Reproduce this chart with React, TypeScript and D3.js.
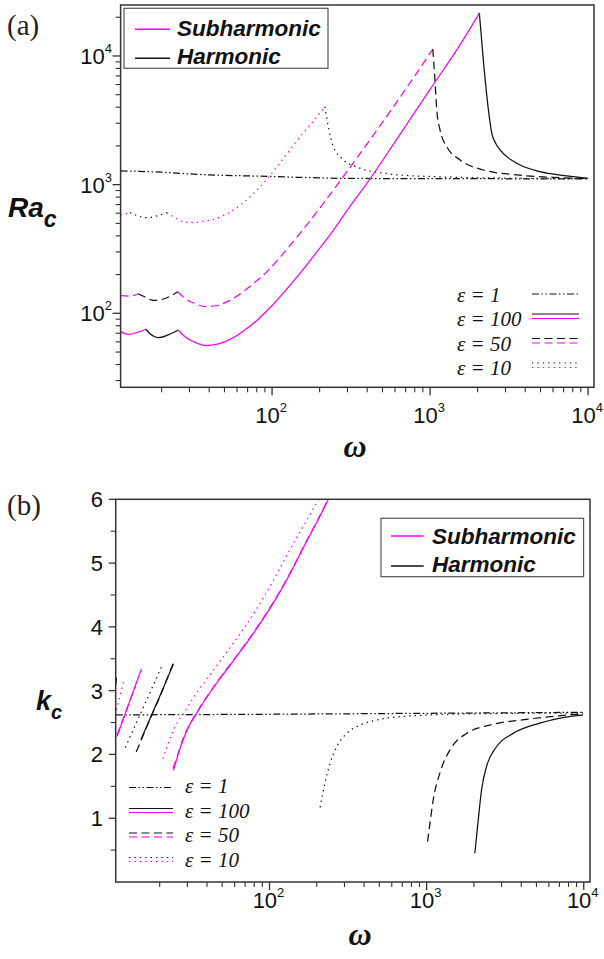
import React from 'react';
import * as d3 from 'd3';

type P = [number, number];

// ---------- Panel (a): omega vs Ra_c ----------
const raEps1: P[] = [[11, 1280], [20, 1250], [35, 1200], [92, 1160], [312, 1118], [1000, 1113], [10000, 1110]];

const raEps100Sub1: P[] = [[11, 72], [12.3, 68.7], [14, 71], [15.9, 75.2]];
const raEps100Har1: P[] = [[15.9, 75.2], [17, 69], [19.1, 64.6], [22, 68], [25.5, 74.2]];
const raEps100Sub2: P[] = [[25.5, 74.2], [28, 66], [32, 60], [35, 57.3], [38.6, 56], [45, 57.5], [50, 60], [65, 72], [80, 88], [100, 115], [150, 204], [192, 300], [250, 460], [312, 680], [393, 1000], [600, 2150], [1000, 5500], [1500, 11500], [2051, 21500]];
const raEps100Har2: P[] = [[2051, 21500], [2172, 9330], [2340, 3810], [2457, 2510], [2600, 2100], [2773, 1862], [3540, 1466], [4965, 1262], [7330, 1170], [10000, 1118]];

const raEps50Sub1: P[] = [[11, 137], [12.5, 136], [14.2, 142]];
const raEps50Har1: P[] = [[14.2, 142], [15.5, 135], [17.8, 126], [20, 128], [23, 137], [25.3, 147]];
const raEps50Sub2: P[] = [[25.3, 147], [28, 131], [32, 120], [38.6, 112.6], [45, 115], [57, 131], [75, 168], [92.6, 210], [120, 300], [150, 418], [200, 655], [276, 1113], [400, 2080], [600, 4200], [800, 7000], [1040, 11300]];
const raEps50Har2: P[] = [[1040, 11300], [1077, 6150], [1102, 3810], [1156, 2660], [1274, 1977], [1549, 1556], [2172, 1300], [3540, 1189], [6000, 1140], [10000, 1115]];

const raEps10Sub1: P[] = [[11, 581], [12.6, 606]];
const raEps10Har1: P[] = [[12.6, 606], [14, 575], [16.1, 553], [19, 575], [21.6, 606]];
const raEps10Sub2: P[] = [[21.6, 606], [24, 560], [27.5, 515], [31.8, 507], [37, 520], [44.7, 548], [57, 636], [72.6, 807], [92.6, 1100], [118, 1600], [150, 2350], [180, 3050], [216, 4040]];
const raEps10Har2: P[] = [[216, 4040], [227, 2820], [244, 1977], [283, 1557], [360, 1343], [506, 1227], [1050, 1154], [3000, 1125], [10000, 1113]];

// ---------- Panel (b): omega vs k_c ----------
const kEps1: P[] = [[10.5, 2.62], [100, 2.63], [1000, 2.645], [10000, 2.66]];

const kEps100Sub1: P[] = [[10.7, 2.28], [12, 2.62], [13.5, 2.97], [15.3, 3.34]];
const kEps100Har1: P[] = [[15.2, 2.23], [17, 2.51], [20, 2.91], [24.5, 3.42]];
const kEps100Sub2: P[] = [[24.5, 1.75], [25.7, 1.93], [28.4, 2.25], [31, 2.46], [34.5, 2.65], [40, 2.9], [46.2, 3.12], [55, 3.37], [65, 3.61], [87, 4.05], [111.6, 4.47], [141, 4.92], [173, 5.35], [204, 5.68], [237, 6.0]];
const kEps100Har2: P[] = [[2028, 0.45], [2130, 0.97], [2238, 1.45], [2406, 1.81], [2784, 2.12], [3553, 2.33], [5250, 2.49], [7500, 2.58], [9900, 2.62]];

const kEps50Har0: P[] = [[10.5, 3.08], [10.65, 3.22]];
const kEps50Sub1: P[] = [[10.7, 2.3], [12, 2.63], [14, 3.06]];
const kEps50Har1: P[] = [[14.2, 2.04], [17, 2.5], [20, 2.9], [24.3, 3.42]];
const kEps50Sub2: P[] = [[24.3, 1.78], [25.7, 1.95], [28.4, 2.27], [34.5, 2.66], [46.2, 3.13], [65, 3.62], [87, 4.06], [111.6, 4.48], [141, 4.93], [173, 5.36], [204, 5.69], [236, 6.0]];
const kEps50Har2: P[] = [[1014, 0.633], [1050, 0.92], [1102, 1.29], [1215, 1.71], [1407, 2.07], [1795, 2.33], [2523, 2.46], [4325, 2.55], [9900, 2.64]];

const kEps10Sub1: P[] = [[10.6, 2.7], [11.8, 3.15]];
const kEps10Har1: P[] = [[12.1, 2.11], [14, 2.46], [17, 2.92], [20.5, 3.37]];
const kEps10Sub2: P[] = [[21, 1.93], [22.5, 2.15], [25, 2.43], [28.5, 2.65], [33, 2.9], [38.2, 3.12], [45.4, 3.37], [53.7, 3.61], [71.9, 4.05], [92.2, 4.47], [116.5, 4.92], [145, 5.35], [173.4, 5.68], [205, 6.0]];
const kEps10Har2: P[] = [[210, 1.17], [225, 1.55], [243, 1.86], [268, 2.12], [310, 2.33], [377, 2.46], [505, 2.55], [746, 2.6], [1795, 2.635], [9900, 2.65]];

// ---------- ticks / labels ----------
const xMajorTicks = [100, 1000, 10000];
const xMajorExp = ['2', '3', '4'];
const raMajorTicks = [100, 1000, 10000];
const raMajorExp = ['2', '3', '4'];
const kMajorTicks = [1, 2, 3, 4, 5, 6];
const kMinorTicks = [0.5, 1.5, 2.5, 3.5, 4.5, 5.5];
const legendTop = ['Subharmonic', 'Harmonic'];
const legendEps = ['ε = 1', 'ε = 100', 'ε = 50', 'ε = 10'];

const MAG = '#ff00ff';
const BLK = '#111111';
const AX = '#333333';
const SOLID = undefined as any;
const DASH = '8,4.5';
const DOT = '1.4,4';
const DASHDOT = '7,2.5,1.5,2.5,1.5,2.5';
const SANS = "'Liberation Sans', Arial, sans-serif";
const SERIF = "'Liberation Serif', 'Times New Roman', serif";

function minorLog(lo: number, hi: number): number[] {
  const out: number[] = [];
  for (let d = 1; d <= 100000; d *= 10) {
    for (let k = 2; k <= 9; k++) {
      const v = k * d;
      if (v >= lo && v <= hi) out.push(v);
    }
  }
  return out;
}

function Curve({ data, x, y, color, dash, width = 1.25 }: any) {
  const line = d3.line<P>().x(d => x(d[0])).y(d => y(d[1])).curve(d3.curveMonotoneX);
  return <path d={line(data) || ''} fill="none" stroke={color} strokeWidth={width} strokeDasharray={dash} strokeLinecap="butt" />;
}

function Sup({ x, y, base, exp, anchor, size = 22 }: any) {
  return (
    <text x={x} y={y} textAnchor={anchor} fontFamily={SANS} fontSize={size} fill="#111">
      {base}
      <tspan dy={-11} fontSize={13}>{exp}</tspan>
    </text>
  );
}

export default function App() {
  // Panel (a) scales
  const xA = d3.scaleLog().domain([11, 10900]).range([120.6, 594]);
  const yA = d3.scaleLog().domain([26.6, 24900]).range([387.3, 5]);
  // Panel (b) scales
  const xB = d3.scaleLog().domain([10.5, 10960]).range([115.7, 590]);
  const yB = d3.scaleLinear().domain([0, 6]).range([882, 499.3]);

  const seriesA = [
    { d: raEps1, c: BLK, s: DASHDOT },
    { d: raEps10Sub1, c: MAG, s: DOT }, { d: raEps10Har1, c: BLK, s: DOT }, { d: raEps10Sub2, c: MAG, s: DOT }, { d: raEps10Har2, c: BLK, s: DOT },
    { d: raEps50Sub1, c: MAG, s: DASH }, { d: raEps50Har1, c: BLK, s: DASH }, { d: raEps50Sub2, c: MAG, s: DASH }, { d: raEps50Har2, c: BLK, s: DASH },
    { d: raEps100Sub1, c: MAG, s: SOLID }, { d: raEps100Har1, c: BLK, s: SOLID }, { d: raEps100Sub2, c: MAG, s: SOLID }, { d: raEps100Har2, c: BLK, s: SOLID },
  ];
  const seriesB = [
    { d: kEps1, c: BLK, s: DASHDOT },
    { d: kEps10Sub1, c: MAG, s: DOT }, { d: kEps10Har1, c: BLK, s: DOT }, { d: kEps10Sub2, c: MAG, s: DOT }, { d: kEps10Har2, c: BLK, s: DOT },
    { d: kEps100Sub1, c: MAG, s: SOLID }, { d: kEps100Har1, c: BLK, s: SOLID }, { d: kEps100Sub2, c: MAG, s: SOLID }, { d: kEps100Har2, c: BLK, s: SOLID },
    { d: kEps50Har0, c: BLK, s: DASH }, { d: kEps50Sub1, c: MAG, s: DASH }, { d: kEps50Har1, c: BLK, s: DASH }, { d: kEps50Sub2, c: MAG, s: DASH }, { d: kEps50Har2, c: BLK, s: DASH },
  ];

  const [ax0, ax1] = xA.range();
  const [ay0, ay1] = yA.range(); // bottom, top
  const [bx0, bx1] = xB.range();
  const [by0, by1] = yB.range();

  const xMinorA = minorLog(xA.domain()[0], xA.domain()[1]);
  const yMinorA = minorLog(yA.domain()[0], yA.domain()[1]);
  const xMinorB = minorLog(xB.domain()[0], xB.domain()[1]);

  const epsStyles = [
    { s: DASHDOT, two: false },
    { s: SOLID, two: true },
    { s: DASH, two: true },
    { s: DOT, two: true },
  ];

  return (
    <svg width={604} height={959} style={{ position: 'absolute', left: 0, top: 0, background: '#fff' }} xmlns="http://www.w3.org/2000/svg">
      <defs>
        <clipPath id="clipA"><rect x={ax0} y={ay1} width={ax1 - ax0} height={ay0 - ay1} /></clipPath>
        <clipPath id="clipB"><rect x={bx0} y={by1} width={bx1 - bx0} height={by0 - by1} /></clipPath>
      </defs>
      <rect x={0} y={0} width={604} height={959} fill="#fff" />

      {/* ================= Panel (a) ================= */}
      <text x={7} y={35} fontFamily={SERIF} fontSize={29} fill="#222">(a)</text>
      <g clipPath="url(#clipA)">
        {seriesA.map((s, i) => <Curve key={i} data={s.d} x={xA} y={yA} color={s.c} dash={s.s} />)}
      </g>
      <rect x={ax0} y={ay1} width={ax1 - ax0} height={ay0 - ay1} fill="none" stroke={AX} strokeWidth={1.5} />
      {xMajorTicks.map(t => <line key={'xa' + t} x1={xA(t)} x2={xA(t)} y1={ay0} y2={ay0 + 8} stroke={AX} strokeWidth={1.3} />)}
      {xMinorA.map(t => <line key={'xam' + t} x1={xA(t)} x2={xA(t)} y1={ay0} y2={ay0 + 5} stroke={AX} strokeWidth={1.1} />)}
      {xMajorTicks.map((t, i) => <Sup key={'xal' + t} x={xA(t) - 1} y={423} base="10" exp={xMajorExp[i]} anchor="middle" />)}
      {raMajorTicks.map(t => <line key={'ya' + t} x1={ax0 - 8} x2={ax0} y1={yA(t)} y2={yA(t)} stroke={AX} strokeWidth={1.3} />)}
      {yMinorA.map(t => <line key={'yam' + t} x1={ax0 - 5} x2={ax0} y1={yA(t)} y2={yA(t)} stroke={AX} strokeWidth={1.1} />)}
      {raMajorTicks.map((t, i) => <Sup key={'yal' + t} x={112} y={yA(t) + 8} base="10" exp={raMajorExp[i]} anchor="end" />)}
      <text x={355} y={457} textAnchor="middle" fontFamily={SERIF} fontStyle="italic" fontWeight="bold" fontSize={32} fill="#111">ω</text>
      <text x={8} y={217} fontFamily={SANS} fontStyle="italic" fontWeight="bold" fontSize={28} fill="#111">
        Ra<tspan dy={10} fontSize={23}>c</tspan>
      </text>
      <rect x={124} y={8.3} width={204} height={60} fill="#fff" stroke="#555" strokeWidth={1.2} />
      <line x1={135} x2={170} y1={29.3} y2={29.3} stroke={MAG} strokeWidth={1.5} />
      <line x1={135} x2={170} y1={58.3} y2={58.3} stroke={BLK} strokeWidth={1.5} />
      {legendTop.map((t, i) => (
        <text key={t} x={177} y={35.5 + i * 28.5} fontFamily={SANS} fontStyle="italic" fontWeight="bold" fontSize={22.5} fill="#111">{t}</text>
      ))}
      {legendEps.map((t, i) => (
        <g key={t}>
          <text x={457} y={301.5 + i * 24.5} fontFamily={SERIF} fontStyle="italic" fontSize={21} fill="#111">{t}</text>
          {epsStyles[i].two ? (
            <g>
              <line x1={532} x2={579} y1={294 + i * 24.5 - 4.5} y2={294 + i * 24.5 - 4.5} stroke={BLK} strokeWidth={1.2} strokeDasharray={epsStyles[i].s} />
              <line x1={532} x2={579} y1={294 + i * 24.5} y2={294 + i * 24.5} stroke={MAG} strokeWidth={1.2} strokeDasharray={epsStyles[i].s} />
            </g>
          ) : (
            <line x1={532} x2={579} y1={294} y2={294} stroke={BLK} strokeWidth={1.2} strokeDasharray={epsStyles[i].s} />
          )}
        </g>
      ))}

      {/* ================= Panel (b) ================= */}
      <text x={7} y={515} fontFamily={SERIF} fontSize={29} fill="#222">(b)</text>
      <g clipPath="url(#clipB)">
        {seriesB.map((s, i) => <Curve key={i} data={s.d} x={xB} y={yB} color={s.c} dash={s.s} />)}
      </g>
      <rect x={bx0} y={by1} width={bx1 - bx0} height={by0 - by1} fill="none" stroke={AX} strokeWidth={1.5} />
      {xMajorTicks.map(t => <line key={'xb' + t} x1={xB(t)} x2={xB(t)} y1={by0} y2={by0 + 8} stroke={AX} strokeWidth={1.3} />)}
      {xMinorB.map(t => <line key={'xbm' + t} x1={xB(t)} x2={xB(t)} y1={by0} y2={by0 + 5} stroke={AX} strokeWidth={1.1} />)}
      {xMajorTicks.map((t, i) => <Sup key={'xbl' + t} x={xB(t) - 1} y={908} base="10" exp={xMajorExp[i]} anchor="middle" />)}
      {kMajorTicks.map(t => <line key={'yb' + t} x1={bx0 - 7} x2={bx0} y1={yB(t)} y2={yB(t)} stroke={AX} strokeWidth={1.3} />)}
      {kMinorTicks.map(t => <line key={'ybm' + t} x1={bx0 - 5} x2={bx0} y1={yB(t)} y2={yB(t)} stroke={AX} strokeWidth={1.1} />)}
      {kMajorTicks.map(t => (
        <text key={'ybl' + t} x={103} y={yB(t) + 8} textAnchor="end" fontFamily={SANS} fontSize={22} fill="#111">{t}</text>
      ))}
      <text x={360} y={945} textAnchor="middle" fontFamily={SERIF} fontStyle="italic" fontWeight="bold" fontSize={32} fill="#111">ω</text>
      <text x={36} y={710} fontFamily={SANS} fontStyle="italic" fontWeight="bold" fontSize={27} fill="#111">
        k<tspan dy={9} fontSize={20}>c</tspan>
      </text>
      <rect x={381} y={518.3} width={202.6} height={58.4} fill="#fff" stroke="#555" strokeWidth={1.2} />
      <line x1={391} x2={423.7} y1={536} y2={536} stroke={MAG} strokeWidth={1.5} />
      <line x1={391} x2={423.7} y1={566} y2={566} stroke={BLK} strokeWidth={1.5} />
      {legendTop.map((t, i) => (
        <text key={'b' + t} x={432} y={543.5 + i * 28.5} fontFamily={SANS} fontStyle="italic" fontWeight="bold" fontSize={22.5} fill="#111">{t}</text>
      ))}
      {legendEps.map((t, i) => (
        <g key={'be' + t}>
          <text x={185} y={793 + i * 24.5} fontFamily={SERIF} fontStyle="italic" fontSize={21} fill="#111">{t}</text>
          {epsStyles[i].two ? (
            <g>
              <line x1={129} x2={173} y1={788 + i * 24.5 - 4} y2={788 + i * 24.5 - 4} stroke={BLK} strokeWidth={1.2} strokeDasharray={epsStyles[i].s} />
              <line x1={129} x2={173} y1={788 + i * 24.5} y2={788 + i * 24.5} stroke={MAG} strokeWidth={1.2} strokeDasharray={epsStyles[i].s} />
            </g>
          ) : (
            <line x1={129} x2={173} y1={787.5} y2={787.5} stroke={BLK} strokeWidth={1.2} strokeDasharray={epsStyles[i].s} />
          )}
        </g>
      ))}
    </svg>
  );
}
